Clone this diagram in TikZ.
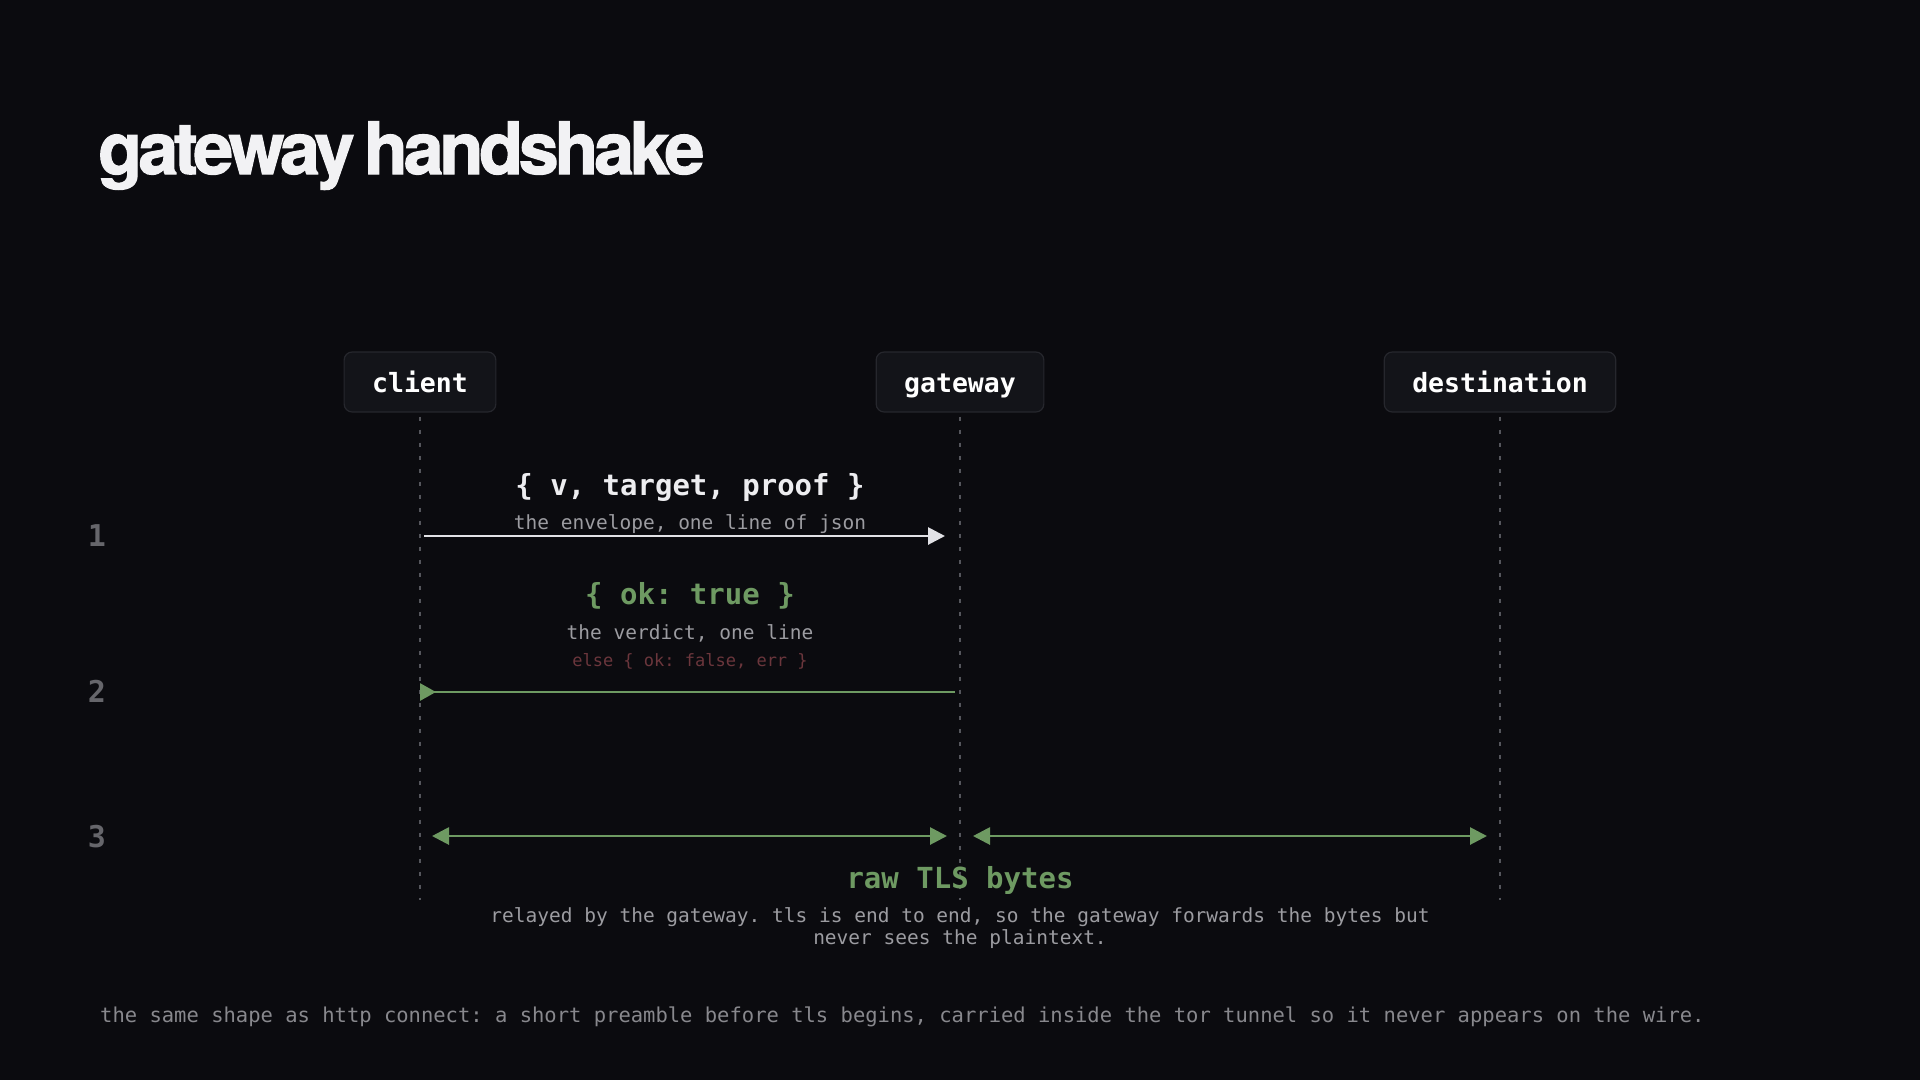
\documentclass[tikz,border=0pt]{standalone}
\usepackage{fontspec}
\setmainfont{DejaVu Sans}
\setmonofont{DejaVu Sans Mono}
\newfontfamily\titlefont[LetterSpace=-6.0, WordSpace=0.6, BoldFeatures={FakeBold=1.5}]{TeX Gyre Heros}
\usetikzlibrary{arrows.meta}
\definecolor{bg}{HTML}{0B0B0F}
\definecolor{boxfill}{HTML}{131419}
\definecolor{boxline}{HTML}{26272D}
\definecolor{lifec}{HTML}{55565C}
\definecolor{titlec}{HTML}{F2F2F4}
\definecolor{whitec}{HTML}{E2E2E6}
\definecolor{msgc}{HTML}{EDEDF0}
\definecolor{subc}{HTML}{9C9CA1}
\definecolor{greenc}{HTML}{6E9A62}
\definecolor{redc}{HTML}{6B363C}
\definecolor{rowc}{HTML}{66666B}
\definecolor{footc}{HTML}{88888D}
\tikzset{
  actor/.style={draw=boxline, fill=boxfill, line width=1.2pt, rounded corners=8pt,
    text=white, font=\ttfamily\bfseries\fontsize{26.5}{30}\selectfont,
    inner xsep=28pt, inner ysep=18pt, text height=22pt, text depth=2pt},
  life/.style={draw=lifec, line width=2pt, dash pattern=on 4pt off 9pt},
  lbl/.style={anchor=base, inner sep=0pt},
  bigmsg/.style={lbl, font=\ttfamily\bfseries\fontsize{29}{34}\selectfont},
  submsg/.style={lbl, text=subc, font=\ttfamily\fontsize{19.5}{22}\selectfont},
  rownum/.style={lbl, text=rowc, font=\ttfamily\bfseries\fontsize{30}{34}\selectfont},
  whitearrow/.style={draw=whitec, line width=2.8pt, -{Triangle[length=17pt, width=17pt]}},
  greenline/.style={draw=greenc, line width=2.8pt},
  revtip/.style={greenline, -{Triangle[reversed, length=16pt, width=17pt]}},
  bitip/.style={greenline, {Triangle[length=17pt, width=17pt]}-{Triangle[length=17pt, width=17pt]}},
}
\begin{document}
\begin{tikzpicture}[x=1pt, y=-1pt]
\fill[bg] (0,0) rectangle (1920,1080);
\useasboundingbox (0,0) rectangle (1920,1080);

% title
\node[anchor=base west, inner sep=0pt, text=titlec,
  font=\titlefont\bfseries\fontsize{72}{72}\selectfont] (title) at (98,174) {gateway handshake};

% participants
\node[actor] (client) at (420,382) {client};
\node[actor] (gateway) at (960,382) {gateway};
\node[actor] (dest) at (1500,382) {destination};

% lifeline ends
\coordinate (cend) at (420,900);
\coordinate (gend) at (960,900);
\coordinate (dend) at (1500,900);
\draw[life, shorten <=4pt] (client.south) -- (cend);
\draw[life, shorten <=4pt] (gateway.south) -- (gend);
\draw[life, shorten <=4pt] (dest.south) -- (dend);

% row coordinates
\coordinate (c1) at (420,536);
\coordinate (g1) at (960,536);
\coordinate (c2) at (420,692);
\coordinate (g2) at (960,692);
\coordinate (c3) at (420,836);
\coordinate (g3) at (960,836);
\coordinate (d3) at (1500,836);

% row numbers
\node[rownum] (r1) at (97,546) {1};
\node[rownum] (r2) at (97,702) {2};
\node[rownum] (r3) at (97,847) {3};

% message 1
\node[bigmsg, text=msgc] (m1) at (690,495) {\{ v, target, proof \}};
\node[submsg] (m1s) at (690,529) {the envelope, one line of json};
\draw[whitearrow, shorten <=4pt, shorten >=15pt] (c1) -- (g1);

% message 2
\node[bigmsg, text=greenc] (m2) at (690,604) {\{ ok: true \}};
\node[submsg] (m2s) at (690,639) {the verdict, one line};
\node[lbl, text=redc, font=\ttfamily\fontsize{17}{20}\selectfont] (m2e) at (690,666) {else \{ ok: false, err \}};
\draw[revtip, shorten <=5pt] (g2) -- (c2);

% message 3
\draw[bitip, shorten <=12pt, shorten >=13pt] (c3) -- (g3);
\draw[bitip, shorten <=13pt, shorten >=13pt] (g3) -- (d3);
\node[bigmsg, text=greenc] (m3) at (960,888) {raw TLS bytes};
\node[submsg] (m3a) at (960,922) {relayed by the gateway. tls is end to end, so the gateway forwards the bytes but};
\node[submsg] (m3b) at (960,944) {never sees the plaintext.};

% footer
\node[anchor=base west, inner sep=0pt, text=footc, font=\ttfamily\fontsize{20.5}{24}\selectfont] (foot) at (100,1022)
  {the same shape as http connect: a short preamble before tls begins, carried inside the tor tunnel so it never appears on the wire.};
\end{tikzpicture}
\end{document}
